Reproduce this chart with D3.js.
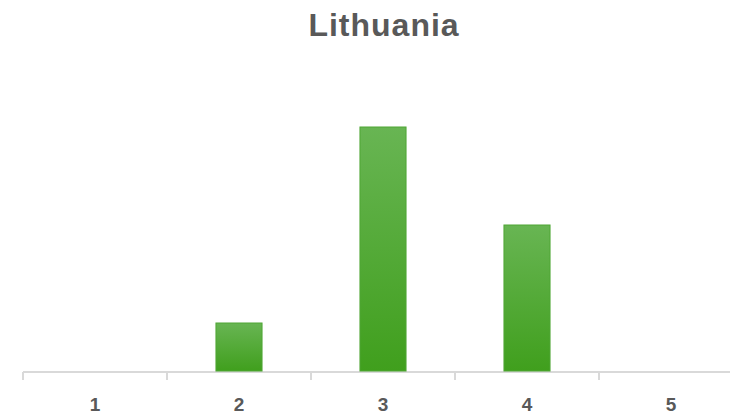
<!DOCTYPE html>
<html>
<head>
<meta charset="utf-8">
<script src="https://cdn.jsdelivr.net/npm/d3@7"></script>
<style>
  html, body { margin: 0; padding: 0; background: #fff; }
  #chart { width: 730px; height: 415px; overflow: hidden; }
</style>
</head>
<body>
<div id="chart"></div>
<script>
// Chart data
const categories = ['1', '2', '3', '4', '5'];
const values = [0, 1, 5, 3, 0];
const title = 'Lithuania';

const width = 730;
const height = 415;
const marginLeft = 23;
const plotRight = 743;   // axis runs past the right edge in the reference
const marginTop = 78;
const baseline = 372;

const svg = d3.select('#chart')
  .append('svg')
  .attr('width', width)
  .attr('height', height)
  .attr('viewBox', [0, 0, width, height]);

// Bar gradient: lighter green on top, darker at the bottom
const grad = svg.append('defs')
  .append('linearGradient')
  .attr('id', 'barGrad')
  .attr('x1', 0).attr('y1', 0)
  .attr('x2', 0).attr('y2', 1);
grad.append('stop').attr('offset', '0%').attr('stop-color', '#68b553');
grad.append('stop').attr('offset', '100%').attr('stop-color', '#409f1d');

const x = d3.scaleBand()
  .domain(categories)
  .range([marginLeft, plotRight])
  .paddingInner(0.68)
  .paddingOuter(0.34);

const y = d3.scaleLinear()
  .domain([0, 6])
  .range([baseline, marginTop]);

// Title
svg.append('text')
  .attr('x', 384)
  .attr('y', 36)
  .attr('text-anchor', 'middle')
  .style('font-family', '"Liberation Sans", Arial, sans-serif')
  .style('font-weight', 'bold')
  .style('font-size', '32px')
  .style('letter-spacing', '1px')
  .style('fill', '#595959')
  .text(title);

// X axis
const step = x.step();
const xAxis = svg.append('g')
  .attr('transform', `translate(0,${baseline})`);

xAxis.append('line')
  .attr('x1', marginLeft)
  .attr('x2', plotRight)
  .attr('stroke', '#d9d9d9')
  .attr('stroke-width', 2);

xAxis.selectAll('.tick-mark')
  .data(d3.range(categories.length + 1))
  .join('line')
  .attr('class', 'tick-mark')
  .attr('x1', i => marginLeft + i * step)
  .attr('x2', i => marginLeft + i * step)
  .attr('y1', 0)
  .attr('y2', 8)
  .attr('stroke', '#d9d9d9')
  .attr('stroke-width', 2);

xAxis.selectAll('.tick-label')
  .data(categories)
  .join('text')
  .attr('class', 'tick-label')
  .attr('x', d => x(d) + x.bandwidth() / 2)
  .attr('y', 39)
  .attr('text-anchor', 'middle')
  .style('font-family', '"Liberation Sans", Arial, sans-serif')
  .style('font-weight', 'bold')
  .style('font-size', '19px')
  .style('fill', '#595959')
  .text(d => d);

// Bars
svg.append('g')
  .selectAll('rect')
  .data(categories.map((c, i) => ({ c, v: values[i] })).filter(d => d.v > 0))
  .join('rect')
  .attr('x', d => x(d.c))
  .attr('y', d => y(d.v))
  .attr('width', x.bandwidth())
  .attr('height', d => baseline - 1 - y(d.v))
  .attr('fill', 'url(#barGrad)')
  .attr('stroke', '#4fa635')
  .attr('stroke-width', 1);
</script>
</body>
</html>
